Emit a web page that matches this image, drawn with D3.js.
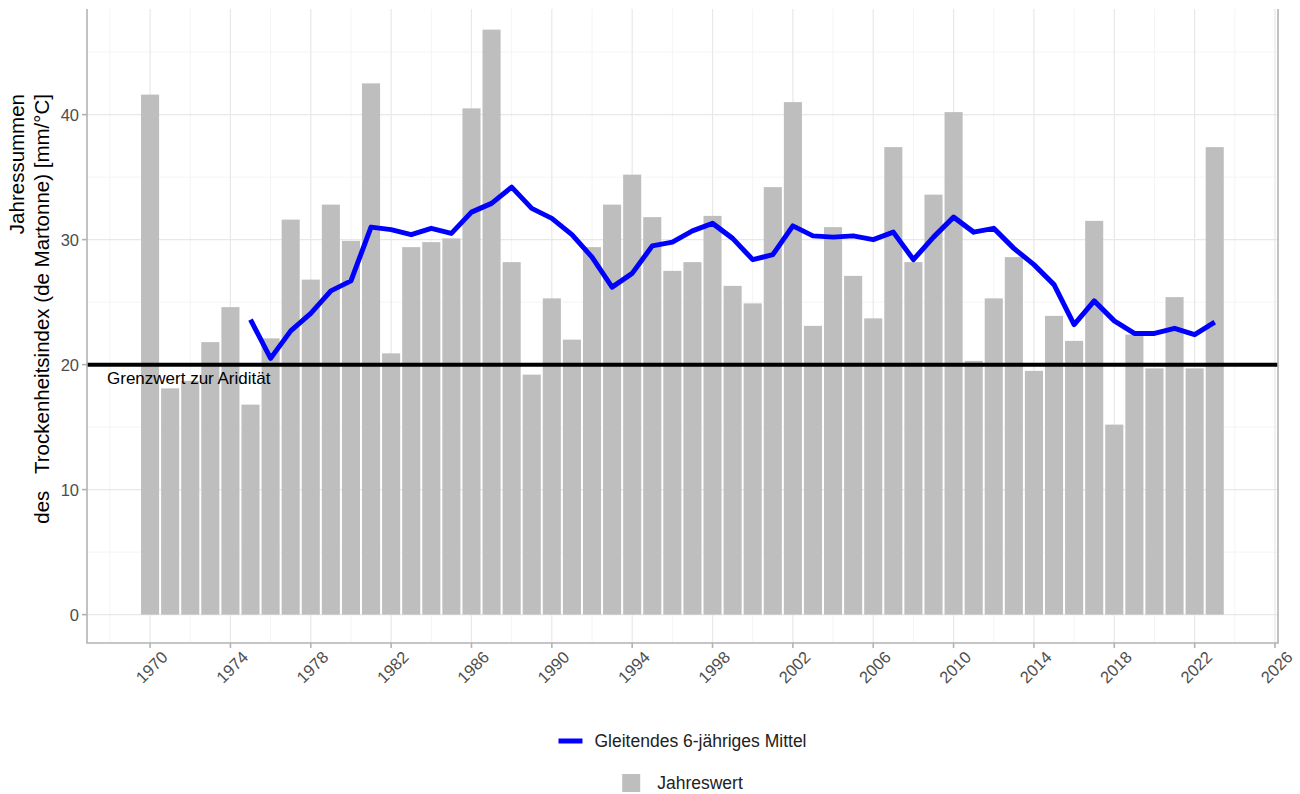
<!DOCTYPE html>
<html>
<head>
<meta charset="utf-8">
<script src="https://cdn.jsdelivr.net/npm/d3@7"></script>
<style>
  html, body { margin: 0; padding: 0; background: #ffffff; }
  svg { display: block; font-family: "Liberation Sans", Arial, Helvetica, sans-serif; }
</style>
</head>
<body>
<svg id="chart" width="1300" height="794"></svg>
<script>
// Jahreswerte des Trockenheitsindex nach de Martonne
const years = [1970, 1971, 1972, 1973, 1974, 1975, 1976, 1977, 1978, 1979,
               1980, 1981, 1982, 1983, 1984, 1985, 1986, 1987, 1988, 1989,
               1990, 1991, 1992, 1993, 1994, 1995, 1996, 1997, 1998, 1999,
               2000, 2001, 2002, 2003, 2004, 2005, 2006, 2007, 2008, 2009,
               2010, 2011, 2012, 2013, 2014, 2015, 2016, 2017, 2018, 2019,
               2020, 2021, 2022, 2023];
const annualValues = [41.6, 18.1, 18.7, 21.8, 24.6, 16.8, 22.1, 31.6, 26.8, 32.8,
                      29.9, 42.5, 20.9, 29.4, 29.8, 30.1, 40.5, 46.8, 28.2, 19.2,
                      25.3, 22.0, 29.4, 32.8, 35.2, 31.8, 27.5, 28.2, 31.9, 26.3,
                      24.9, 34.2, 41.0, 23.1, 31.0, 27.1, 23.7, 37.4, 28.2, 33.6,
                      40.2, 20.3, 25.3, 28.6, 19.5, 23.9, 21.9, 31.5, 15.2, 22.4,
                      19.7, 25.4, 19.7, 37.4];

// Gleitendes 6-jähriges Mittel (ab 1975)
const meanYears = [1975, 1976, 1977, 1978, 1979, 1980, 1981, 1982, 1983, 1984,
                   1985, 1986, 1987, 1988, 1989, 1990, 1991, 1992, 1993, 1994,
                   1995, 1996, 1997, 1998, 1999, 2000, 2001, 2002, 2003, 2004,
                   2005, 2006, 2007, 2008, 2009, 2010, 2011, 2012, 2013, 2014,
                   2015, 2016, 2017, 2018, 2019, 2020, 2021, 2022, 2023];
const movingMean = [23.6, 20.5, 22.7, 24.1, 25.9, 26.7, 31.0, 30.8, 30.4, 30.9,
                    30.5, 32.2, 32.9, 34.2, 32.5, 31.7, 30.4, 28.6, 26.2, 27.3,
                    29.5, 29.8, 30.7, 31.3, 30.1, 28.4, 28.8, 31.1, 30.3, 30.2,
                    30.3, 30.0, 30.6, 28.4, 30.2, 31.8, 30.6, 30.9, 29.3, 28.0,
                    26.4, 23.2, 25.1, 23.5, 22.5, 22.5, 22.9, 22.4, 23.4];

// Achsen und Beschriftungen
const xTicks = [1970, 1974, 1978, 1982, 1986, 1990, 1994, 1998, 2002, 2006, 2010, 2014, 2018, 2022, 2026];
const xMinor = [1968, 1972, 1976, 1980, 1984, 1988, 1992, 1996, 2000, 2004, 2008, 2012, 2016, 2020, 2024];
const yTicks = [0, 10, 20, 30, 40];
const yMinor = [5, 15, 25, 35, 45];
const aridityThreshold = 20;
const thresholdLabel = "Grenzwert zur Aridität";
const yTitleLines = ["Jahressummen", "des   Trockenheitsindex (de Martonne) [mm/°C]"];
const legendLine = "Gleitendes 6-jähriges Mittel";
const legendBar = "Jahreswert";

const svg = d3.select("#chart");
const panel = { left: 87, right: 1278, top: 9, bottom: 643 };

const x = d3.scaleLinear().domain([1966.86, 2026.15]).range([panel.left, panel.right]);
const y = d3.scaleLinear().domain([-2.27, 48.45]).range([panel.bottom, panel.top]);

const barColor = "#bebebe";
const lineColor = "#0000ff";
const frameColor = "#b3b3b3";
const textColor = "#4d4d4d";

// Gitter
const grid = svg.append("g");
grid.selectAll("line.ymin").data(yMinor).join("line")
  .attr("x1", panel.left).attr("x2", panel.right)
  .attr("y1", d => y(d)).attr("y2", d => y(d))
  .attr("stroke", "#f4f4f4").attr("stroke-width", 1);
grid.selectAll("line.xmin").data(xMinor).join("line")
  .attr("y1", panel.top).attr("y2", panel.bottom)
  .attr("x1", d => x(d)).attr("x2", d => x(d))
  .attr("stroke", "#f4f4f4").attr("stroke-width", 1);
grid.selectAll("line.ymaj").data(yTicks).join("line")
  .attr("x1", panel.left).attr("x2", panel.right)
  .attr("y1", d => y(d)).attr("y2", d => y(d))
  .attr("stroke", "#e8e8e8").attr("stroke-width", 1.2);
grid.selectAll("line.xmaj").data(xTicks).join("line")
  .attr("y1", panel.top).attr("y2", panel.bottom)
  .attr("x1", d => x(d)).attr("x2", d => x(d))
  .attr("stroke", "#e8e8e8").attr("stroke-width", 1.2);

// Balken der Jahreswerte
const barW = x(1970.9) - x(1970);
svg.append("g").selectAll("rect").data(years).join("rect")
  .attr("x", (d) => x(d) - barW / 2)
  .attr("width", barW)
  .attr("y", (d, i) => y(annualValues[i]))
  .attr("height", (d, i) => y(0) - y(annualValues[i]))
  .attr("fill", barColor);

// Gleitendes Mittel
const line = d3.line()
  .x((d) => x(d))
  .y((d, i) => y(movingMean[i]));
svg.append("path")
  .attr("d", line(meanYears))
  .attr("fill", "none")
  .attr("stroke", lineColor)
  .attr("stroke-width", 5)
  .attr("stroke-linejoin", "round")
  .attr("stroke-linecap", "butt");

// Grenzwert zur Aridität
svg.append("line")
  .attr("x1", panel.left).attr("x2", panel.right)
  .attr("y1", y(aridityThreshold)).attr("y2", y(aridityThreshold))
  .attr("stroke", "#000").attr("stroke-width", 4);
svg.append("text")
  .attr("x", 107).attr("y", y(aridityThreshold) + 19)
  .attr("font-size", 17).attr("fill", "#000")
  .text(thresholdLabel);

// Rahmen
svg.append("path")
  .attr("d", `M${panel.left},${panel.top}V${panel.bottom}H${panel.right}V${panel.top}`)
  .attr("fill", "none").attr("stroke", frameColor).attr("stroke-width", 1.6);

// y-Achse
const yAxis = svg.append("g");
yAxis.selectAll("line").data(yTicks).join("line")
  .attr("x1", panel.left - 5).attr("x2", panel.left)
  .attr("y1", d => y(d)).attr("y2", d => y(d))
  .attr("stroke", frameColor).attr("stroke-width", 1.6);
yAxis.selectAll("text").data(yTicks).join("text")
  .attr("x", panel.left - 8).attr("y", d => y(d))
  .attr("text-anchor", "end").attr("dominant-baseline", "central")
  .attr("font-size", 16.5).attr("fill", textColor)
  .text(d => d3.format("d")(d));

// x-Achse
const xAxis = svg.append("g");
xAxis.selectAll("line").data(xTicks).join("line")
  .attr("x1", d => x(d)).attr("x2", d => x(d))
  .attr("y1", panel.bottom).attr("y2", panel.bottom + 5)
  .attr("stroke", frameColor).attr("stroke-width", 1.6);
xAxis.selectAll("text").data(xTicks).join("text")
  .attr("transform", d => `translate(${x(d) + 1.5},${667}) rotate(-45)`)
  .attr("text-anchor", "middle").attr("dominant-baseline", "central")
  .attr("font-size", 16.5).attr("fill", textColor)
  .text(d => d);

// Achsentitel
const titleX = [24, 49];
yTitleLines.forEach((t, i) => {
  svg.append("text")
    .attr("transform", `translate(${titleX[i]},94) rotate(-90)`)
    .attr("text-anchor", "end")
    .attr("font-size", 20.5).attr("fill", "#000")
    .style("white-space", "pre")
    .text(t);
});

// Legende
const cx = (panel.left + panel.right) / 2;
const leg1 = svg.append("g");
const t1 = leg1.append("text")
  .attr("font-size", 17.5).attr("fill", "#222").attr("dominant-baseline", "central")
  .text(legendLine);
const w1 = t1.node().getComputedTextLength();
const key1 = 24, gap1 = 12;
const start1 = cx - (key1 + gap1 + w1) / 2;
leg1.append("line")
  .attr("x1", start1).attr("x2", start1 + key1)
  .attr("y1", 741).attr("y2", 741)
  .attr("stroke", lineColor).attr("stroke-width", 5);
t1.attr("x", start1 + key1 + gap1).attr("y", 741);

const leg2 = svg.append("g");
const t2 = leg2.append("text")
  .attr("font-size", 17.5).attr("fill", "#222").attr("dominant-baseline", "central")
  .text(legendBar);
const w2 = t2.node().getComputedTextLength();
const key2 = 18, gap2 = 17;
const start2 = cx - (key2 + gap2 + w2) / 2;
leg2.append("rect")
  .attr("x", start2).attr("y", 774).attr("width", key2).attr("height", key2)
  .attr("fill", barColor);
t2.attr("x", start2 + key2 + gap2).attr("y", 783);
</script>
</body>
</html>
